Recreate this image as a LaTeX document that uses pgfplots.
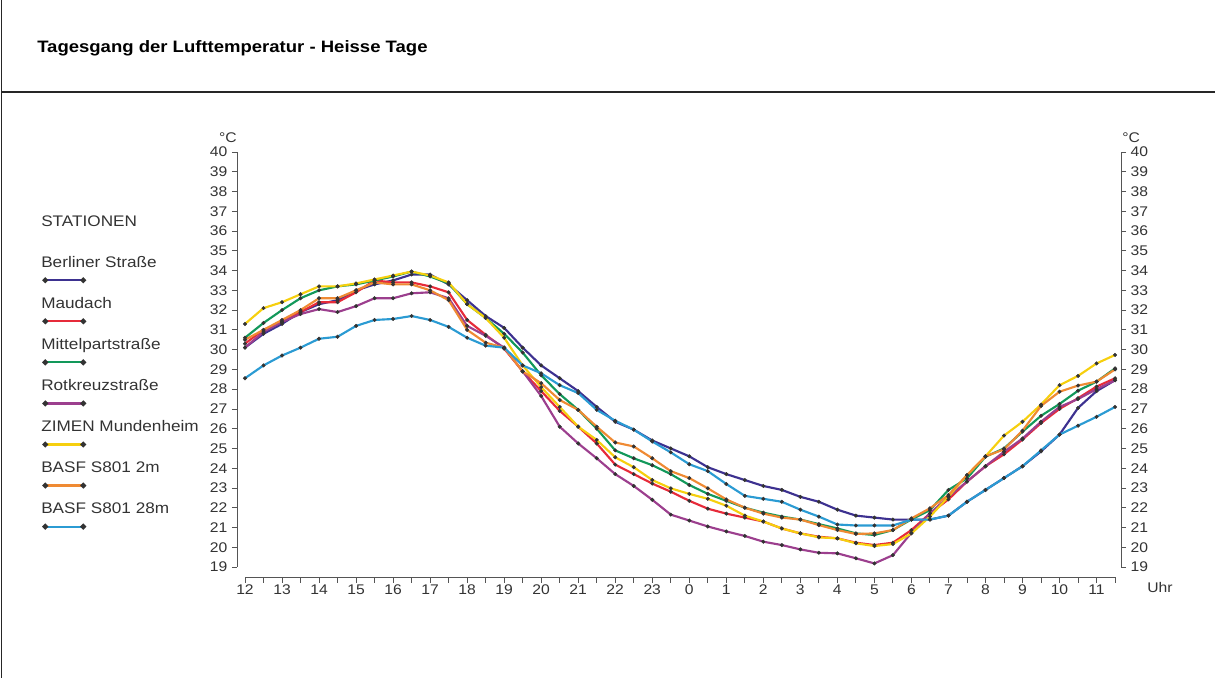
\documentclass[border=0pt]{standalone}
\usepackage{fontspec}
\setmainfont{Liberation Sans}[FakeStretch=1.12]
\usepackage{pgfplots}
\pgfplotsset{compat=1.18}
\usepackage{pgfplotstable}

\pgfplotstableread{
t    B     R     G     M     Y     O     C
0    30.1  30.3  30.6  30.1  31.3  30.5  28.55
0.5  30.8  31.0  31.35 30.9  32.1  31.0  29.2
1    31.3  31.4  32.0  31.4  32.4  31.5  29.7
1.5  31.9  31.9  32.6  31.8  32.8  32.0  30.1
2    32.3  32.4  33.0  32.05 33.2  32.6  30.55
2.5  32.5  32.4  33.2  31.9  33.2  32.6  30.65
3    33.0  32.9  33.3  32.2  33.35 33.0  31.2
3.5  33.3  33.5  33.5  32.6  33.55 33.4  31.5
4    33.5  33.4  33.7  32.6  33.75 33.3  31.55
4.5  33.8  33.4  33.95 32.85 33.95 33.3  31.7
5    33.8  33.2  33.7  32.9  33.75 33.0  31.5
5.5  33.3  32.9  33.35 32.6  33.4  32.5  31.15
6    32.5  31.5  32.3  31.2  32.3  31.0  30.6
6.5  31.7  30.75 31.6  30.7  31.6  30.35 30.2
7    31.1  30.05 30.8  30.1  30.6  30.1  30.1
7.5  30.1  28.9  29.85 28.9  29.2  28.9  29.2
8    29.2  27.9  28.7  27.65 28.1  28.3  28.8
8.5  28.55 26.9  27.75 26.1  27.1  27.45 28.2
9    27.9  26.1  26.95 25.25 26.1  26.95 27.8
9.5  27.1  25.25 26.0  24.5  25.43 26.1  26.95
10   26.35 24.18 24.9  23.7  24.55 25.3  26.4
10.5 25.95 23.7  24.5  23.1  24.05 25.1  25.95
11   25.4  23.22 24.15 22.4  23.4  24.5  25.35
11.5 25.0  22.81 23.7  21.65 22.98 23.85 24.8
12   24.6  22.35 23.15 21.35 22.7  23.5  24.2
12.5 24.05 21.95 22.7  21.05 22.45 22.98 23.85
13   23.7  21.7  22.35 20.8  22.1  22.42 23.2
13.5 23.4  21.5  22.0  20.57 21.6  22.0  22.6
14   23.1  21.3  21.75 20.28 21.3  21.7  22.45
14.5 22.9  20.95 21.55 20.11 20.95 21.5  22.3
15   22.55 20.7  21.4  19.89 20.7  21.4  21.9
15.5 22.3  20.53 21.17 19.72 20.5  21.12 21.55
16   21.9  20.45 20.95 19.69 20.45 20.87 21.15
16.5 21.6  20.23 20.7  19.44 20.2  20.67 21.1
17   21.5  20.11 20.62 19.18 20.06 20.7  21.1
17.5 21.4  20.23 20.87 19.6  20.16 20.87 21.1
18   21.4  20.87 21.41 20.73 20.7  21.46 21.4
18.5 21.4  21.71 21.88 21.71 21.55 21.97 21.4
19   21.6  22.42 22.9  22.56 22.56 22.64 21.6
19.5 22.3  23.32 23.48 23.32 23.65 23.65 22.3
20   22.9  24.1  24.58 24.1  24.6  24.6  22.9
20.5 23.5  24.7  25.0  24.83 25.65 24.95 23.5
21   24.1  25.45 25.85 25.5  26.35 25.9  24.1
21.5 24.85 26.28 26.65 26.35 27.22 27.15 24.9
22   25.7  27.0  27.25 27.1  28.2  27.87 25.7
22.5 27.05 27.54 27.92 27.5  28.67 28.18 26.15
23   27.9  28.13 28.38 28.0  29.3  28.38 26.6
23.5 28.45 28.55 29.05 28.45 29.73 29.0  27.1
}\data

\definecolor{cB}{HTML}{3D3190}
\definecolor{cR}{HTML}{E62B3A}
\definecolor{cG}{HTML}{12985A}
\definecolor{cM}{HTML}{9C3F8E}
\definecolor{cY}{HTML}{F6CF0E}
\definecolor{cO}{HTML}{EF8A33}
\definecolor{cC}{HTML}{2B9BD3}
\definecolor{txt}{HTML}{333333}
\definecolor{axc}{HTML}{555555}

\pgfplotsset{
  myaxis/.style={
    scale only axis, anchor=south west,
    width=663pt, height=311.25pt,
    xmin=-0.216, xmax=23.66, ymin=19, ymax=40,
    ytick={19,20,...,40},
    tick align=outside, major tick length=3.75pt,
    tick style={line width=0.6pt, color=axc},
    axis line style={line width=0.7pt, color=axc},
    tick label style={font=\fontsize{10.5}{12}\selectfont, text=txt},
    /pgf/number format/assume math mode=true,
    clip=false,
  },
  ser/.style={line width=1.6pt, mark=*, mark size=1.35pt,
    mark options={fill=black!80, draw=black!80, line width=0.3pt}},
}

\begin{document}
\begin{tikzpicture}[x=0.75pt,y=0.75pt]
\path[use as bounding box] (0,0) rectangle (1215,678);
\draw[line width=1.2pt, black!85] (1.5,0) -- (1.5,678);
\draw[line width=0.9pt, black!85] (1.5,586) -- (1215,586);
\node[anchor=west, inner sep=0pt, font=\bfseries\fontsize{12.4}{14}\selectfont] at (37,630) {Tagesgang der Lufttemperatur - Heisse Tage};

\node[anchor=west, inner sep=0pt, text=txt, font=\fontsize{11.5}{12}\selectfont] at (41,456.3) {STATIONEN};
\node[anchor=east, inner sep=0pt, text=txt, font=\fontsize{10.5}{12}\selectfont] at (237,540) {°C};
\node[anchor=west, inner sep=0pt, text=txt, font=\fontsize{10.5}{12}\selectfont] at (1122,540) {°C};
\node[anchor=west, inner sep=0pt, text=txt, font=\fontsize{10.5}{12}\selectfont] at (1147,90) {Uhr};

\begin{axis}[myaxis, at={(177.75pt,83.25pt)},
  axis x line=none, axis y line*=left,
  legend style={at={(axis description cs:-0.2217,0.749)}, anchor=north west,
    draw=none, fill=none, inner sep=0pt, row sep=20.3pt,
    font=\fontsize{11.5}{12}\selectfont,
    nodes={inner sep=0pt, text height=8pt, text depth=2.5pt, text=txt}},
  legend cell align=left,
  legend image code/.code={
    \draw[#1, mark=none, overlay] (3pt,-12.6pt) -- (31.5pt,-12.6pt);
    \fill[black!80, overlay] (3pt,-12.6pt) circle (1.25pt) (31.5pt,-12.6pt) circle (1.25pt);
  },
]
\addplot[ser, cB] table[x=t, y=B] {\data};
\addlegendentry{Berliner Straße}
\addplot[ser, cR] table[x=t, y=R] {\data};
\addlegendentry{Maudach}
\addplot[ser, cG] table[x=t, y=G] {\data};
\addlegendentry{Mittelpartstraße}
\addplot[ser, cM] table[x=t, y=M] {\data};
\addlegendentry{Rotkreuzstraße}
\addplot[ser, cY] table[x=t, y=Y] {\data};
\addlegendentry{ZIMEN Mundenheim}
\addplot[ser, cO] table[x=t, y=O] {\data};
\addlegendentry{BASF S801 2m}
\addplot[ser, cC] table[x=t, y=C] {\data};
\addlegendentry{BASF S801 28m}
\end{axis}

\begin{axis}[myaxis, at={(177.75pt,83.25pt)}, axis x line=none, axis y line*=right]
\end{axis}

\begin{axis}[at={(183.75pt,75.75pt)}, anchor=south west, scale only axis,
  width=652.5pt, height=1pt, xmin=0, xmax=23.5, ymin=0, ymax=1,
  axis y line=none, axis x line*=bottom,
  xtick={0,1,...,23},
  xticklabels={12,13,14,15,16,17,18,19,20,21,22,23,0,1,2,3,4,5,6,7,8,9,10,11},
  minor xtick={0.5,1.5,...,23.5},
  tick align=outside, major tick length=4.5pt, minor tick length=4.5pt,
  tick style={line width=0.6pt, color=axc},
  axis line style={line width=0.7pt, color=axc},
  tick label style={font=\fontsize{10.5}{12}\selectfont, text=txt},
  xticklabel style={yshift=2.2pt},
  /pgf/number format/assume math mode=true,
]
\end{axis}
\end{tikzpicture}
\end{document}
